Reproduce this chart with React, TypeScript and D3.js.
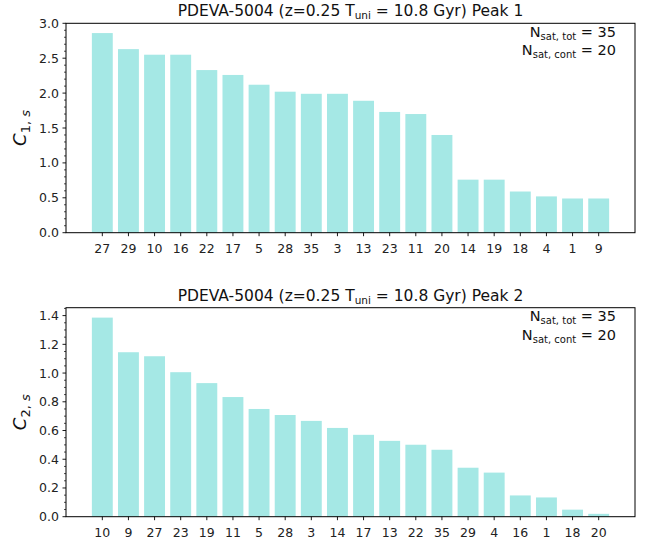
import React from "react";
import * as d3 from "d3";

const cats1 = ["27","29","10","16","22","17","5","28","35","3","13","23","11","20","14","19","18","4","1","9"];
const vals1 = [2.86,2.63,2.55,2.55,2.33,2.26,2.12,2.02,1.99,1.99,1.89,1.73,1.70,1.40,0.76,0.76,0.59,0.52,0.49,0.49];
const cats2 = ["10","9","27","23","19","11","5","28","3","14","17","13","22","35","29","4","16","1","18","20"];
const vals2 = [1.386,1.145,1.117,1.006,0.930,0.833,0.750,0.708,0.667,0.618,0.570,0.528,0.501,0.466,0.341,0.307,0.148,0.134,0.049,0.020];

const titleMain = "PDEVA-5004 (z=0.25 T";
const titleSub = "uni";
const titleRest = " = 10.8 Gyr) Peak ";
const nTot = 35;
const nCont = 20;

const FONT = "DejaVu Sans";
const BAR = "#a5e8e5";

type PanelProps = {
  cats: string[];
  vals: number[];
  top: number;
  bottom: number;
  yMax: number;
  major: number;
  minor: number;
  peak: number;
};

function Panel({ cats, vals, top, bottom, yMax, major, minor, peak }: PanelProps) {
  const left = 66;
  const right = 635;
  const x = d3.scaleLinear().domain([-1.39, cats.length - 1 + 1.39]).range([left, right]);
  const y = d3.scaleLinear().domain([0, yMax]).range([bottom, top]);
  const majors = d3.range(0, yMax + 1e-9, major);
  const minors = d3.range(0, yMax + 1e-9, minor).filter(
    (v) => Math.abs(v / major - Math.round(v / major)) > 1e-6
  );
  const bw = x(0.4) - x(-0.4);
  const fmt = d3.format(".1f");
  const midY = (top + bottom) / 2;
  return (
    <g>
      {vals.map((v, i) => (
        <rect key={i} x={x(i - 0.4)} y={y(v)} width={bw} height={y(0) - y(v)} fill={BAR} />
      ))}
      <rect x={left} y={top} width={right - left} height={bottom - top} fill="none" stroke="#000" strokeWidth={1} />
      {majors.map((v, i) => (
        <g key={"M" + i}>
          <line x1={left - 3.5} x2={left} y1={y(v)} y2={y(v)} stroke="#000" strokeWidth={0.9} />
          <text x={left - 7} y={y(v)} dy="0.36em" textAnchor="end" fontSize={12.5} fontFamily={FONT} fill="#222">
            {fmt(v)}
          </text>
        </g>
      ))}
      {minors.map((v, i) => (
        <line key={"m" + i} x1={left - 2} x2={left} y1={y(v)} y2={y(v)} stroke="#000" strokeWidth={0.7} />
      ))}
      {cats.map((c, i) => (
        <g key={"x" + i}>
          <line x1={x(i)} x2={x(i)} y1={bottom} y2={bottom + 3.5} stroke="#000" strokeWidth={0.9} />
          <text x={x(i)} y={bottom + 20} textAnchor="middle" fontSize={12.5} fontFamily={FONT} fill="#222">
            {c}
          </text>
        </g>
      ))}
      <text x={(left + right) / 2} y={top - 7} textAnchor="middle" fontSize={15.5} fontFamily={FONT} fill="#111">
        {titleMain}
        <tspan fontSize={10.5} dy={3}>{titleSub}</tspan>
        <tspan dy={-3}>{titleRest + peak}</tspan>
      </text>
      <text x={right - 19} y={top + 13.5} textAnchor="end" fontSize={14.5} fontFamily={FONT} fill="#111">
        N
        <tspan fontSize={10} dy={3}>sat, tot</tspan>
        <tspan dy={-3}>{" = " + nTot}</tspan>
      </text>
      <text x={right - 19} y={top + 32} textAnchor="end" fontSize={14.5} fontFamily={FONT} fill="#111">
        N
        <tspan fontSize={10} dy={3}>sat, cont</tspan>
        <tspan dy={-3}>{" = " + nCont}</tspan>
      </text>
      <text
        transform={`translate(26,${midY}) rotate(-90)`}
        textAnchor="middle"
        fontSize={18}
        fontFamily={FONT}
        fill="#111"
      >
        <tspan fontStyle="italic">C</tspan>
        <tspan fontSize={13} dy={4}>{peak + ","}</tspan>
        <tspan fontSize={13} fontStyle="italic">{" s"}</tspan>
      </text>
    </g>
  );
}

export default function App() {
  return (
    <svg
      width={646}
      height={542}
      viewBox="0 0 646 542"
      style={{ position: "absolute", left: 0, top: 0, background: "#fff" }}
    >
      <rect width={646} height={542} fill="#fff" />
      <Panel cats={cats1} vals={vals1} top={23.3} bottom={232.7} yMax={3.0} major={0.5} minor={0.1} peak={1} />
      <Panel cats={cats2} vals={vals2} top={307.7} bottom={516.7} yMax={1.455} major={0.2} minor={0.05} peak={2} />
    </svg>
  );
}
